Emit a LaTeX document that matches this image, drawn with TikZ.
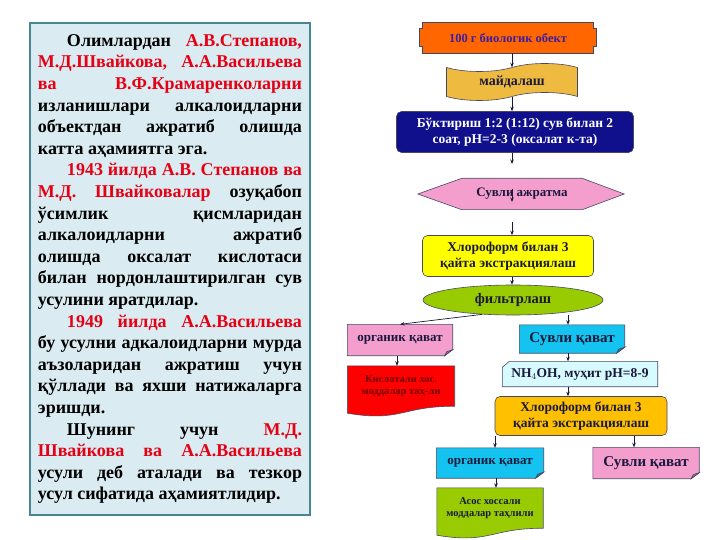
\documentclass[tikz,border=0pt]{standalone}
\usepackage{fontspec}
\setmainfont{Liberation Serif}
\usetikzlibrary{positioning,calc,shapes.geometric,shapes.symbols,arrows.meta,backgrounds}
\definecolor{tred}{RGB}{230,0,20}
\definecolor{boxfill}{RGB}{218,236,242}
\definecolor{boxline}{RGB}{70,135,145}
\definecolor{ink}{RGB}{25,25,60}
\definecolor{orng}{RGB}{255,102,0}
\definecolor{gold}{RGB}{238,186,64}
\definecolor{navy}{RGB}{16,16,140}
\definecolor{pnk}{RGB}{244,158,206}
\definecolor{lime}{RGB}{153,204,0}
\definecolor{cyn}{RGB}{20,195,240}
\definecolor{lcyn}{RGB}{215,250,255}
\definecolor{amber}{RGB}{255,192,0}
\definecolor{yel}{RGB}{255,255,0}
\newcommand{\redtxt}[1]{\textcolor{tred}{#1}}
\newcommand{\fsz}[1]{\fontsize{#1bp}{1.2\dimexpr#1bp\relax}\selectfont}
% card with a folded lower right corner
\newcommand{\foldcard}[2]{%
  \filldraw[shp, fill=#2] (#1.north west) -- (#1.north east) -- ($(#1.south east)+(0,-6)$)
     -- ($(#1.south east)+(-8,0)$) -- (#1.south west) -- cycle;
  \filldraw[shp, fill=#2!70!black] ($(#1.south east)+(0,-6)$) -- ($(#1.south east)+(-6,-4)$)
     -- ($(#1.south east)+(-8,0)$) -- cycle;}
% document with a wavy bottom
\newcommand{\docshape}[2]{%
  \filldraw[shp, fill=#2] (#1.north west) -- (#1.north east) -- (#1.south east)
     .. controls (#1.south) and ($(#1.south)+(0,16)$) .. ($(#1.south west)+(0,7)$) -- cycle;}
\begin{document}
\begin{tikzpicture}[x=1bp,y=-1bp]
        \tikzset{flow/.style={inner sep=0pt, align=center, text=ink, font=\bfseries\fsz{13.5}},
                 rbox/.style={flow, draw=ink!80, line width=0.6bp, rounded corners=5bp},
                 shp/.style={draw=ink!80, line width=0.6bp},
                 arr/.style={-{Stealth[length=4.5bp,width=3.5bp]}, ink, line width=0.7bp}}
        \useasboundingbox (0,0) rectangle (720,540);
        %
        \draw (170,269) node[draw=boxline, line width=2.5bp, fill=boxfill, minimum width=280bp, minimum height=492bp,
              text width=264bp, align=justify, inner sep=0pt,
              font=\bfseries\fontsize{18bp}{21.6bp}\selectfont](info){\tolerance=10000\hyphenpenalty=10000
          \hspace*{29bp}Олимлардан \redtxt{А.В.Степанов,}\linebreak
          \redtxt{М.Д.Швайкова, А.А.Васильева}\linebreak
          \redtxt{ва В.Ф.Крамаренколарни}\linebreak
          изланишлари алкалоидларни\linebreak
          объектдан ажратиб олишда\linebreak
          катта аҳамиятга эга.\par
          \hspace*{29bp}\redtxt{1943 йилда А.В. Степанов ва}\linebreak
          \redtxt{М.Д. Швайковалар} озуқабоп\linebreak
          ўсимлик қисмларидан\linebreak
          алкалоидларни ажратиб\linebreak
          олишда оксалат кислотаси\linebreak
          билан нордонлаштирилган сув\linebreak
          усулини яратдилар.\par
          \hspace*{29bp}\redtxt{1949 йилда А.А.Васильева}\linebreak
          бу усулни адкалоидларни мурда\linebreak
          аъзоларидан ажратиш учун\linebreak
          қўллади ва яхши натижаларга\linebreak
          эришди.\par
          \hspace*{29bp}Шунинг учун \redtxt{М.Д.}\linebreak
          \redtxt{Швайкова ва А.А.Васильева}\linebreak
          усули деб аталади ва тезкор\linebreak
          усул сифатида аҳамиятлидир.\par};
        %
        \draw (508,38)  node[flow, minimum width=171bp, minimum height=30bp, text={rgb,255:red,60;green,30;blue,160}, font=\bfseries\fsz{12.5}](obj){100 г биологик обект};
        \draw (512,82)  node[flow, shape=tape, tape bend height=8bp, draw=ink!80, line width=0.6bp, fill=gold, minimum width=131bp, minimum height=37bp, font=\bfseries\fsz{14}](tape){майдалаш};
        \draw (515,132) node[rbox, fill=navy, text=white, minimum width=237bp, minimum height=41bp](soak){Бўктириш 1:2 (1:12) сув билан 2\\соат, pH=2-3 (оксалат к-та)};
        \draw (522,194) node[flow, minimum width=120bp, minimum height=31bp, font=\bfseries\fsz{13}](hex){Сувли ажратма};
        \draw (508,256) node[rbox, fill=yel, minimum width=171bp, minimum height=41bp](chl1){Хлороформ билан 3\\қайта экстракциялаш};
        \draw (513,300) node[flow, ellipse, shp, fill=lime, minimum width=180bp, minimum height=30bp, font=\bfseries\fsz{14.5}](filt){фильтрлаш};
        %
        \draw (400,340) node[flow, minimum width=105bp, minimum height=31bp, font=\bfseries\fsz{13}](org1){органик қават};
        \draw (572,339) node[flow, minimum width=105bp, minimum height=28bp, font=\bfseries\fsz{15}](aq1){Сувли қават};
        \draw (401,386) node[flow, minimum width=107bp, minimum height=40bp, text=red!45!black, font=\bfseries\fsz{10.5}](acid){Кислотали хос.\\моддалар таҳ-ли};
        \draw (580,374) node[flow, minimum width=155bp, minimum height=25bp](nh){NH$_4$OH, муҳит pH=8-9};
        \draw (581,416) node[rbox, fill=amber, minimum width=172bp, minimum height=39bp](chl2){Хлороформ билан 3\\қайта экстракциялаш};
        \draw (490,463) node[flow, minimum width=107bp, minimum height=30bp, font=\bfseries\fsz{13}](org2){органик қават};
        \draw (646,463) node[flow, minimum width=106bp, minimum height=31bp, font=\bfseries\fsz{15}](aq2){Сувли қават};
        \draw (490,508) node[flow, minimum width=106bp, minimum height=40bp, font=\bfseries\fsz{10.5}](base){Асос хоссали\\моддалар таҳлили};
        %
        \begin{scope}[on background layer]
          \filldraw[shp, fill=orng] (obj.north west) -- (obj.north east) -- ($(obj.north east)+(0,6)$) -- ++(3,0)
             -- ($(obj.south east)+(3,-7)$) -- ++(-3,0) -- (obj.south east) -- (obj.south west)
             -- ($(obj.south west)+(0,-7)$) -- ++(-3,0) -- ($(obj.north west)+(-3,6)$) -- ++(3,0) -- cycle;
          \filldraw[shp, fill=pnk] (hex.north west) -- (hex.north east) -- ($(hex.east)+(42,0)$) -- (hex.south east)
             -- (hex.south west) -- ($(hex.west)+(-44,0)$) -- cycle;
          \filldraw[shp, fill=lcyn] ($(nh.north west)+(7,0)$) -- (nh.north east) -- (nh.south east) -- (nh.south west)
             -- ($(nh.north west)+(0,6)$) -- cycle;
          \foldcard{org1}{pnk}
          \foldcard{aq1}{cyn}
          \foldcard{org2}{cyn}
          \foldcard{aq2}{pnk}
          \docshape{acid}{red}
          \docshape{base}{lime}
        \end{scope}
        %
        \coordinate (c1) at (512,164);
        \coordinate (h1) at (512,189);
        \coordinate (h2) at (512,202);
        \coordinate (c2) at (512,222);
        \coordinate (xa) at (568,0);
        \draw[arr] (obj.south -| tape.north) -- (tape.north);
        \draw[arr] (tape.south) -- (tape.south |- soak.north);
        \draw[arr] (soak.south -| c1) -- (c1);
        \draw[arr] (h1) -- (h2);
        \draw[arr] (c2) -- (c2 |- chl1.north);
        \draw[arr] (chl1.south -| c2) -- (filt.north -| c2);
        \draw[arr] (filt.205) -- (org1.north);
        \draw[arr] (filt.south -| xa) -- (aq1.north -| xa);
        \draw[arr] ([xshift=-3bp]org1.south) -- ([xshift=-3bp]org1.south |- acid.north);
        \draw[arr] (aq1.south -| xa) -- (nh.north -| xa);
        \draw[arr] (nh.south -| xa) -- (chl2.north -| xa);
        \draw[arr] ([xshift=5bp]org2.north |- chl2.south) -- ([xshift=5bp]org2.north);
        \draw[arr] ([xshift=-12bp]aq2.north |- chl2.south) -- ([xshift=-12bp]aq2.north);
        \draw[arr] ([xshift=6bp]org2.south) -- ([xshift=6bp]org2.south |- base.north);
    \end{tikzpicture}
\end{document}
